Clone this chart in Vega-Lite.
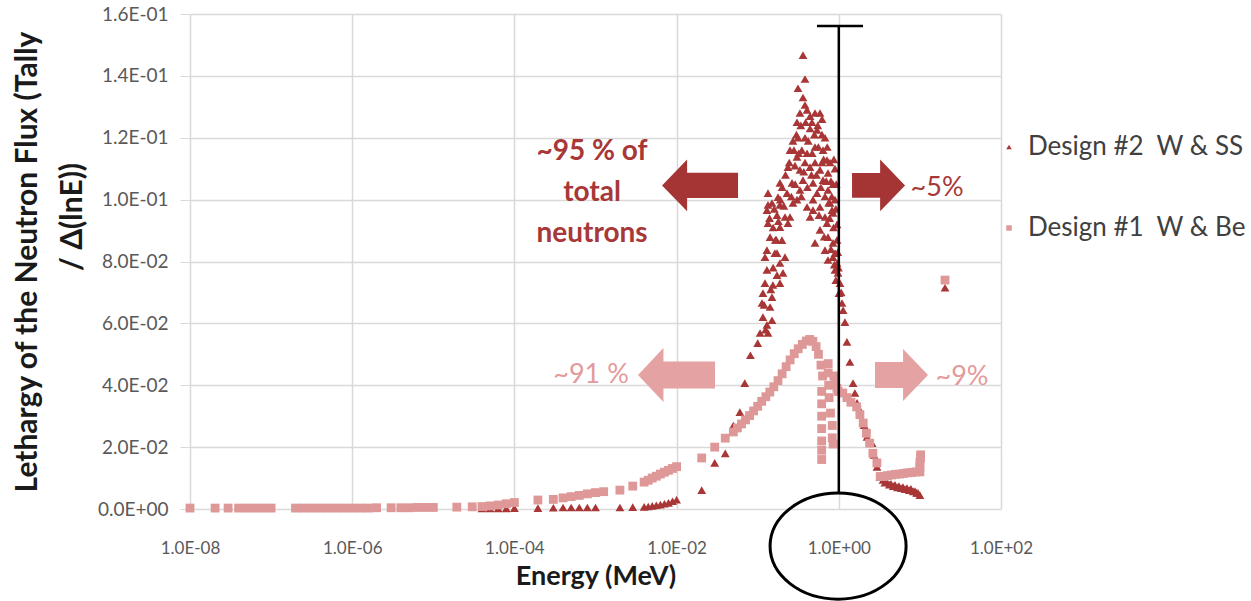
{
  "$schema": "https://vega.github.io/schema/vega-lite/v6.json",
  "width": 811,
  "height": 495,
  "autosize": {"type": "none"},
  "padding": {"left": 190, "top": 14, "right": 250, "bottom": 92},
  "background": "white",
  "config": {
    "view": {"stroke": null},
    "font": "Lato",
    "legend": {"title": null}
  },
  "datasets": {
    "flux": [
      {"series": "Design #2\u00a0 W & SS", "energy": 3.98e-5, "lethargy": 0.0002},
      {"series": "Design #2\u00a0 W & SS", "energy": 5.01e-5, "lethargy": 0.0002},
      {"series": "Design #2\u00a0 W & SS", "energy": 6.31e-5, "lethargy": 0.0002},
      {"series": "Design #2\u00a0 W & SS", "energy": 7.94e-5, "lethargy": 0.0002},
      {"series": "Design #2\u00a0 W & SS", "energy": 1e-4, "lethargy": 0.0003},
      {"series": "Design #2\u00a0 W & SS", "energy": 1.95e-4, "lethargy": 0.0003},
      {"series": "Design #2\u00a0 W & SS", "energy": 3.02e-4, "lethargy": 0.0004},
      {"series": "Design #2\u00a0 W & SS", "energy": 3.98e-4, "lethargy": 0.0005},
      {"series": "Design #2\u00a0 W & SS", "energy": 5.01e-4, "lethargy": 0.0005},
      {"series": "Design #2\u00a0 W & SS", "energy": 6.31e-4, "lethargy": 0.0005},
      {"series": "Design #2\u00a0 W & SS", "energy": 7.94e-4, "lethargy": 0.0005},
      {"series": "Design #2\u00a0 W & SS", "energy": 1e-3, "lethargy": 0.0005},
      {"series": "Design #2\u00a0 W & SS", "energy": 2.0e-3, "lethargy": 0.0005},
      {"series": "Design #2\u00a0 W & SS", "energy": 2.88e-3, "lethargy": 0.0006},
      {"series": "Design #2\u00a0 W & SS", "energy": 3.98e-3, "lethargy": 0.0007},
      {"series": "Design #2\u00a0 W & SS", "energy": 4.47e-3, "lethargy": 0.0008},
      {"series": "Design #2\u00a0 W & SS", "energy": 5.01e-3, "lethargy": 0.0010},
      {"series": "Design #2\u00a0 W & SS", "energy": 5.62e-3, "lethargy": 0.0012},
      {"series": "Design #2\u00a0 W & SS", "energy": 6.31e-3, "lethargy": 0.0014},
      {"series": "Design #2\u00a0 W & SS", "energy": 7.08e-3, "lethargy": 0.0017},
      {"series": "Design #2\u00a0 W & SS", "energy": 7.94e-3, "lethargy": 0.0020},
      {"series": "Design #2\u00a0 W & SS", "energy": 8.91e-3, "lethargy": 0.0025},
      {"series": "Design #2\u00a0 W & SS", "energy": 1e-2, "lethargy": 0.0030},
      {"series": "Design #2\u00a0 W & SS", "energy": 2.04e-2, "lethargy": 0.0061},
      {"series": "Design #2\u00a0 W & SS", "energy": 2.95e-2, "lethargy": 0.0149},
      {"series": "Design #2\u00a0 W & SS", "energy": 3.98e-2, "lethargy": 0.0180},
      {"series": "Design #2\u00a0 W & SS", "energy": 5.01e-2, "lethargy": 0.0270},
      {"series": "Design #2\u00a0 W & SS", "energy": 6.03e-2, "lethargy": 0.0313},
      {"series": "Design #2\u00a0 W & SS", "energy": 6.92e-2, "lethargy": 0.0407},
      {"series": "Design #2\u00a0 W & SS", "energy": 8.13e-2, "lethargy": 0.0497},
      {"series": "Design #2\u00a0 W & SS", "energy": 0.1, "lethargy": 0.0536},
      {"series": "Design #2\u00a0 W & SS", "energy": 0.107, "lethargy": 0.0569},
      {"series": "Design #2\u00a0 W & SS", "energy": 0.362, "lethargy": 0.1467},
      {"series": "Design #2\u00a0 W & SS", "energy": 0.383, "lethargy": 0.139},
      {"series": "Design #2\u00a0 W & SS", "energy": 0.314, "lethargy": 0.136},
      {"series": "Design #2\u00a0 W & SS", "energy": 0.362, "lethargy": 0.133},
      {"series": "Design #2\u00a0 W & SS", "energy": 0.383, "lethargy": 0.1306},
      {"series": "Design #2\u00a0 W & SS", "energy": 0.305, "lethargy": 0.125},
      {"series": "Design #2\u00a0 W & SS", "energy": 0.332, "lethargy": 0.128},
      {"series": "Design #2\u00a0 W & SS", "energy": 0.406, "lethargy": 0.129},
      {"series": "Design #2\u00a0 W & SS", "energy": 0.442, "lethargy": 0.127},
      {"series": "Design #2\u00a0 W & SS", "energy": 0.586, "lethargy": 0.128},
      {"series": "Design #2\u00a0 W & SS", "energy": 0.621, "lethargy": 0.126},
      {"series": "Design #2\u00a0 W & SS", "energy": 0.272, "lethargy": 0.119},
      {"series": "Design #2\u00a0 W & SS", "energy": 0.314, "lethargy": 0.120},
      {"series": "Design #2\u00a0 W & SS", "energy": 0.442, "lethargy": 0.123},
      {"series": "Design #2\u00a0 W & SS", "energy": 0.539, "lethargy": 0.1225},
      {"series": "Design #2\u00a0 W & SS", "energy": 0.676, "lethargy": 0.120},
      {"series": "Design #2\u00a0 W & SS", "energy": 0.250, "lethargy": 0.116},
      {"series": "Design #2\u00a0 W & SS", "energy": 0.305, "lethargy": 0.1138},
      {"series": "Design #2\u00a0 W & SS", "energy": 0.406, "lethargy": 0.115},
      {"series": "Design #2\u00a0 W & SS", "energy": 0.509, "lethargy": 0.117},
      {"series": "Design #2\u00a0 W & SS", "energy": 0.639, "lethargy": 0.116},
      {"series": "Design #2\u00a0 W & SS", "energy": 0.715, "lethargy": 0.1128},
      {"series": "Design #2\u00a0 W & SS", "energy": 0.236, "lethargy": 0.1105},
      {"series": "Design #2\u00a0 W & SS", "energy": 0.332, "lethargy": 0.1096},
      {"series": "Design #2\u00a0 W & SS", "energy": 0.442, "lethargy": 0.1105},
      {"series": "Design #2\u00a0 W & SS", "energy": 0.586, "lethargy": 0.1096},
      {"series": "Design #2\u00a0 W & SS", "energy": 0.736, "lethargy": 0.1086},
      {"series": "Design #2\u00a0 W & SS", "energy": 0.188, "lethargy": 0.1054},
      {"series": "Design #2\u00a0 W & SS", "energy": 0.265, "lethargy": 0.1054},
      {"series": "Design #2\u00a0 W & SS", "energy": 0.362, "lethargy": 0.1063},
      {"series": "Design #2\u00a0 W & SS", "energy": 0.481, "lethargy": 0.1054},
      {"series": "Design #2\u00a0 W & SS", "energy": 0.639, "lethargy": 0.1063},
      {"series": "Design #2\u00a0 W & SS", "energy": 0.134, "lethargy": 0.1021},
      {"series": "Design #2\u00a0 W & SS", "energy": 0.230, "lethargy": 0.1021},
      {"series": "Design #2\u00a0 W & SS", "energy": 0.332, "lethargy": 0.1031},
      {"series": "Design #2\u00a0 W & SS", "energy": 0.539, "lethargy": 0.1021},
      {"series": "Design #2\u00a0 W & SS", "energy": 0.736, "lethargy": 0.1031},
      {"series": "Design #2\u00a0 W & SS", "energy": 0.134, "lethargy": 0.0983},
      {"series": "Design #2\u00a0 W & SS", "energy": 0.188, "lethargy": 0.0983},
      {"series": "Design #2\u00a0 W & SS", "energy": 0.272, "lethargy": 0.0989},
      {"series": "Design #2\u00a0 W & SS", "energy": 0.406, "lethargy": 0.0976},
      {"series": "Design #2\u00a0 W & SS", "energy": 0.586, "lethargy": 0.0976},
      {"series": "Design #2\u00a0 W & SS", "energy": 0.779, "lethargy": 0.0989},
      {"series": "Design #2\u00a0 W & SS", "energy": 0.173, "lethargy": 0.095},
      {"series": "Design #2\u00a0 W & SS", "energy": 0.250, "lethargy": 0.0944},
      {"series": "Design #2\u00a0 W & SS", "energy": 0.442, "lethargy": 0.0944},
      {"series": "Design #2\u00a0 W & SS", "energy": 0.676, "lethargy": 0.0944},
      {"series": "Design #2\u00a0 W & SS", "energy": 0.848, "lethargy": 0.0957},
      {"series": "Design #2\u00a0 W & SS", "energy": 0.150, "lethargy": 0.0989},
      {"series": "Design #2\u00a0 W & SS", "energy": 0.178, "lethargy": 0.1008},
      {"series": "Design #2\u00a0 W & SS", "energy": 0.130, "lethargy": 0.0966},
      {"series": "Design #2\u00a0 W & SS", "energy": 0.217, "lethargy": 0.0944},
      {"series": "Design #2\u00a0 W & SS", "energy": 0.134, "lethargy": 0.0924},
      {"series": "Design #2\u00a0 W & SS", "energy": 0.188, "lethargy": 0.0911},
      {"series": "Design #2\u00a0 W & SS", "energy": 0.236, "lethargy": 0.0924},
      {"series": "Design #2\u00a0 W & SS", "energy": 0.142, "lethargy": 0.0879},
      {"series": "Design #2\u00a0 W & SS", "energy": 0.199, "lethargy": 0.0869},
      {"series": "Design #2\u00a0 W & SS", "energy": 0.130, "lethargy": 0.0837},
      {"series": "Design #2\u00a0 W & SS", "energy": 0.173, "lethargy": 0.0827},
      {"series": "Design #2\u00a0 W & SS", "energy": 0.217, "lethargy": 0.0814},
      {"series": "Design #2\u00a0 W & SS", "energy": 0.481, "lethargy": 0.0966},
      {"series": "Design #2\u00a0 W & SS", "energy": 0.715, "lethargy": 0.0924},
      {"series": "Design #2\u00a0 W & SS", "energy": 0.824, "lethargy": 0.0966},
      {"series": "Design #2\u00a0 W & SS", "energy": 0.586, "lethargy": 0.0902},
      {"series": "Design #2\u00a0 W & SS", "energy": 0.736, "lethargy": 0.0879},
      {"series": "Design #2\u00a0 W & SS", "energy": 0.848, "lethargy": 0.086},
      {"series": "Design #2\u00a0 W & SS", "energy": 0.509, "lethargy": 0.086},
      {"series": "Design #2\u00a0 W & SS", "energy": 0.676, "lethargy": 0.0837},
      {"series": "Design #2\u00a0 W & SS", "energy": 0.848, "lethargy": 0.0814},
      {"series": "Design #2\u00a0 W & SS", "energy": 0.736, "lethargy": 0.0805},
      {"series": "Design #2\u00a0 W & SS", "energy": 0.123, "lethargy": 0.0814},
      {"series": "Design #2\u00a0 W & SS", "energy": 0.163, "lethargy": 0.0827},
      {"series": "Design #2\u00a0 W & SS", "energy": 0.188, "lethargy": 0.0795},
      {"series": "Design #2\u00a0 W & SS", "energy": 0.130, "lethargy": 0.0773},
      {"series": "Design #2\u00a0 W & SS", "energy": 0.173, "lethargy": 0.0756},
      {"series": "Design #2\u00a0 W & SS", "energy": 0.205, "lethargy": 0.0763},
      {"series": "Design #2\u00a0 W & SS", "energy": 0.123, "lethargy": 0.073},
      {"series": "Design #2\u00a0 W & SS", "energy": 0.154, "lethargy": 0.0724},
      {"series": "Design #2\u00a0 W & SS", "energy": 0.116, "lethargy": 0.0698},
      {"series": "Design #2\u00a0 W & SS", "energy": 0.150, "lethargy": 0.0685},
      {"series": "Design #2\u00a0 W & SS", "energy": 0.188, "lethargy": 0.073},
      {"series": "Design #2\u00a0 W & SS", "energy": 0.113, "lethargy": 0.0666},
      {"series": "Design #2\u00a0 W & SS", "energy": 0.142, "lethargy": 0.0653},
      {"series": "Design #2\u00a0 W & SS", "energy": 0.116, "lethargy": 0.062},
      {"series": "Design #2\u00a0 W & SS", "energy": 0.150, "lethargy": 0.061},
      {"series": "Design #2\u00a0 W & SS", "energy": 0.134, "lethargy": 0.0569},
      {"series": "Design #2\u00a0 W & SS", "energy": 0.130, "lethargy": 0.0595},
      {"series": "Design #2\u00a0 W & SS", "energy": 0.898, "lethargy": 0.0827},
      {"series": "Design #2\u00a0 W & SS", "energy": 0.950, "lethargy": 0.0795},
      {"series": "Design #2\u00a0 W & SS", "energy": 0.978, "lethargy": 0.0763},
      {"series": "Design #2\u00a0 W & SS", "energy": 1.035, "lethargy": 0.073},
      {"series": "Design #2\u00a0 W & SS", "energy": 0.898, "lethargy": 0.0773},
      {"series": "Design #2\u00a0 W & SS", "energy": 1.006, "lethargy": 0.0698},
      {"series": "Design #2\u00a0 W & SS", "energy": 1.095, "lethargy": 0.0666},
      {"series": "Design #2\u00a0 W & SS", "energy": 0.898, "lethargy": 0.110},
      {"series": "Design #2\u00a0 W & SS", "energy": 0.898, "lethargy": 0.100},
      {"series": "Design #2\u00a0 W & SS", "energy": 0.950, "lethargy": 0.092},
      {"series": "Design #2\u00a0 W & SS", "energy": 0.848, "lethargy": 0.105},
      {"series": "Design #2\u00a0 W & SS", "energy": 0.779, "lethargy": 0.112},
      {"series": "Design #2\u00a0 W & SS", "energy": 0.950, "lethargy": 0.087},
      {"series": "Design #2\u00a0 W & SS", "energy": 0.467, "lethargy": 0.125},
      {"series": "Design #2\u00a0 W & SS", "energy": 0.509, "lethargy": 0.128},
      {"series": "Design #2\u00a0 W & SS", "energy": 0.55, "lethargy": 0.124},
      {"series": "Design #2\u00a0 W & SS", "energy": 0.383, "lethargy": 0.120},
      {"series": "Design #2\u00a0 W & SS", "energy": 0.35, "lethargy": 0.116},
      {"series": "Design #2\u00a0 W & SS", "energy": 0.288, "lethargy": 0.111},
      {"series": "Design #2\u00a0 W & SS", "energy": 0.383, "lethargy": 0.112},
      {"series": "Design #2\u00a0 W & SS", "energy": 0.509, "lethargy": 0.112},
      {"series": "Design #2\u00a0 W & SS", "energy": 0.621, "lethargy": 0.112},
      {"series": "Design #2\u00a0 W & SS", "energy": 0.305, "lethargy": 0.100},
      {"series": "Design #2\u00a0 W & SS", "energy": 0.481, "lethargy": 0.100},
      {"series": "Design #2\u00a0 W & SS", "energy": 0.676, "lethargy": 0.101},
      {"series": "Design #2\u00a0 W & SS", "energy": 0.14, "lethargy": 0.094},
      {"series": "Design #2\u00a0 W & SS", "energy": 0.155, "lethargy": 0.091},
      {"series": "Design #2\u00a0 W & SS", "energy": 0.16, "lethargy": 0.097},
      {"series": "Design #2\u00a0 W & SS", "energy": 0.165, "lethargy": 0.087},
      {"series": "Design #2\u00a0 W & SS", "energy": 0.2, "lethargy": 0.104},
      {"series": "Design #2\u00a0 W & SS", "energy": 0.21, "lethargy": 0.098},
      {"series": "Design #2\u00a0 W & SS", "energy": 0.22, "lethargy": 0.108},
      {"series": "Design #2\u00a0 W & SS", "energy": 0.245, "lethargy": 0.112},
      {"series": "Design #2\u00a0 W & SS", "energy": 0.26, "lethargy": 0.101},
      {"series": "Design #2\u00a0 W & SS", "energy": 0.28, "lethargy": 0.116},
      {"series": "Design #2\u00a0 W & SS", "energy": 0.29, "lethargy": 0.105},
      {"series": "Design #2\u00a0 W & SS", "energy": 0.3, "lethargy": 0.121},
      {"series": "Design #2\u00a0 W & SS", "energy": 0.32, "lethargy": 0.115},
      {"series": "Design #2\u00a0 W & SS", "energy": 0.34, "lethargy": 0.124},
      {"series": "Design #2\u00a0 W & SS", "energy": 0.345, "lethargy": 0.101},
      {"series": "Design #2\u00a0 W & SS", "energy": 0.37, "lethargy": 0.109},
      {"series": "Design #2\u00a0 W & SS", "energy": 0.39, "lethargy": 0.125},
      {"series": "Design #2\u00a0 W & SS", "energy": 0.41, "lethargy": 0.104},
      {"series": "Design #2\u00a0 W & SS", "energy": 0.42, "lethargy": 0.119},
      {"series": "Design #2\u00a0 W & SS", "energy": 0.46, "lethargy": 0.108},
      {"series": "Design #2\u00a0 W & SS", "energy": 0.47, "lethargy": 0.115},
      {"series": "Design #2\u00a0 W & SS", "energy": 0.5, "lethargy": 0.121},
      {"series": "Design #2\u00a0 W & SS", "energy": 0.53, "lethargy": 0.108},
      {"series": "Design #2\u00a0 W & SS", "energy": 0.56, "lethargy": 0.117},
      {"series": "Design #2\u00a0 W & SS", "energy": 0.57, "lethargy": 0.095},
      {"series": "Design #2\u00a0 W & SS", "energy": 0.6, "lethargy": 0.104},
      {"series": "Design #2\u00a0 W & SS", "energy": 0.62, "lethargy": 0.121},
      {"series": "Design #2\u00a0 W & SS", "energy": 0.65, "lethargy": 0.113},
      {"series": "Design #2\u00a0 W & SS", "energy": 0.66, "lethargy": 0.088},
      {"series": "Design #2\u00a0 W & SS", "energy": 0.7, "lethargy": 0.106},
      {"series": "Design #2\u00a0 W & SS", "energy": 0.72, "lethargy": 0.117},
      {"series": "Design #2\u00a0 W & SS", "energy": 0.75, "lethargy": 0.099},
      {"series": "Design #2\u00a0 W & SS", "energy": 0.77, "lethargy": 0.094},
      {"series": "Design #2\u00a0 W & SS", "energy": 0.8, "lethargy": 0.106},
      {"series": "Design #2\u00a0 W & SS", "energy": 0.82, "lethargy": 0.101},
      {"series": "Design #2\u00a0 W & SS", "energy": 0.86, "lethargy": 0.091},
      {"series": "Design #2\u00a0 W & SS", "energy": 0.87, "lethargy": 0.113},
      {"series": "Design #2\u00a0 W & SS", "energy": 0.92, "lethargy": 0.097},
      {"series": "Design #2\u00a0 W & SS", "energy": 0.93, "lethargy": 0.105},
      {"series": "Design #2\u00a0 W & SS", "energy": 0.97, "lethargy": 0.083},
      {"series": "Design #2\u00a0 W & SS", "energy": 0.99, "lethargy": 0.078},
      {"series": "Design #2\u00a0 W & SS", "energy": 0.155, "lethargy": 0.078},
      {"series": "Design #2\u00a0 W & SS", "energy": 0.12, "lethargy": 0.066},
      {"series": "Design #2\u00a0 W & SS", "energy": 0.125, "lethargy": 0.058},
      {"series": "Design #2\u00a0 W & SS", "energy": 0.145, "lethargy": 0.071},
      {"series": "Design #2\u00a0 W & SS", "energy": 0.17, "lethargy": 0.087},
      {"series": "Design #2\u00a0 W & SS", "energy": 0.18, "lethargy": 0.093},
      {"series": "Design #2\u00a0 W & SS", "energy": 0.19, "lethargy": 0.1},
      {"series": "Design #2\u00a0 W & SS", "energy": 0.8, "lethargy": 0.084},
      {"series": "Design #2\u00a0 W & SS", "energy": 0.88, "lethargy": 0.079},
      {"series": "Design #2\u00a0 W & SS", "energy": 0.92, "lethargy": 0.074},
      {"series": "Design #2\u00a0 W & SS", "energy": 1.07, "lethargy": 0.070},
      {"series": "Design #2\u00a0 W & SS", "energy": 1.13, "lethargy": 0.0643},
      {"series": "Design #2\u00a0 W & SS", "energy": 1.19, "lethargy": 0.0604},
      {"series": "Design #2\u00a0 W & SS", "energy": 1.26, "lethargy": 0.054},
      {"series": "Design #2\u00a0 W & SS", "energy": 1.37, "lethargy": 0.0475},
      {"series": "Design #2\u00a0 W & SS", "energy": 1.50, "lethargy": 0.0407},
      {"series": "Design #2\u00a0 W & SS", "energy": 1.58, "lethargy": 0.0375},
      {"series": "Design #2\u00a0 W & SS", "energy": 1.68, "lethargy": 0.0343},
      {"series": "Design #2\u00a0 W & SS", "energy": 1.82, "lethargy": 0.032},
      {"series": "Design #2\u00a0 W & SS", "energy": 2.05, "lethargy": 0.0271},
      {"series": "Design #2\u00a0 W & SS", "energy": 2.23, "lethargy": 0.0233},
      {"series": "Design #2\u00a0 W & SS", "energy": 2.57, "lethargy": 0.0213},
      {"series": "Design #2\u00a0 W & SS", "energy": 2.72, "lethargy": 0.0175},
      {"series": "Design #2\u00a0 W & SS", "energy": 2.96, "lethargy": 0.0136},
      {"series": "Design #2\u00a0 W & SS", "energy": 3.22, "lethargy": 0.0103},
      {"series": "Design #2\u00a0 W & SS", "energy": 3.51, "lethargy": 0.0094},
      {"series": "Design #2\u00a0 W & SS", "energy": 3.93, "lethargy": 0.0087},
      {"series": "Design #2\u00a0 W & SS", "energy": 4.40, "lethargy": 0.0081},
      {"series": "Design #2\u00a0 W & SS", "energy": 4.93, "lethargy": 0.0078},
      {"series": "Design #2\u00a0 W & SS", "energy": 5.52, "lethargy": 0.0074},
      {"series": "Design #2\u00a0 W & SS", "energy": 6.19, "lethargy": 0.0071},
      {"series": "Design #2\u00a0 W & SS", "energy": 6.93, "lethargy": 0.0068},
      {"series": "Design #2\u00a0 W & SS", "energy": 7.77, "lethargy": 0.0065},
      {"series": "Design #2\u00a0 W & SS", "energy": 8.71, "lethargy": 0.0058},
      {"series": "Design #2\u00a0 W & SS", "energy": 9.48, "lethargy": 0.0052},
      {"series": "Design #2\u00a0 W & SS", "energy": 10.0, "lethargy": 0.0045},
      {"series": "Design #2\u00a0 W & SS", "energy": 3.7, "lethargy": 0.0085},
      {"series": "Design #2\u00a0 W & SS", "energy": 4.2, "lethargy": 0.0079},
      {"series": "Design #2\u00a0 W & SS", "energy": 4.7, "lethargy": 0.0074},
      {"series": "Design #2\u00a0 W & SS", "energy": 5.3, "lethargy": 0.0070},
      {"series": "Design #2\u00a0 W & SS", "energy": 5.9, "lethargy": 0.0067},
      {"series": "Design #2\u00a0 W & SS", "energy": 6.6, "lethargy": 0.0064},
      {"series": "Design #2\u00a0 W & SS", "energy": 7.4, "lethargy": 0.0061},
      {"series": "Design #2\u00a0 W & SS", "energy": 8.3, "lethargy": 0.0057},
      {"series": "Design #2\u00a0 W & SS", "energy": 9.1, "lethargy": 0.0052},
      {"series": "Design #2\u00a0 W & SS", "energy": 20.4, "lethargy": 0.0715},

      {"series": "Design #1\u00a0 W & Be", "energy": 1e-8, "lethargy": 0.0003},
      {"series": "Design #1\u00a0 W & Be", "energy": 2.04e-8, "lethargy": 0.0003},
      {"series": "Design #1\u00a0 W & Be", "energy": 2.95e-8, "lethargy": 0.0003},
      {"series": "Design #1\u00a0 W & Be", "energy": 3.98e-8, "lethargy": 0.0003},
      {"series": "Design #1\u00a0 W & Be", "energy": 5.01e-8, "lethargy": 0.0003},
      {"series": "Design #1\u00a0 W & Be", "energy": 6.31e-8, "lethargy": 0.0003},
      {"series": "Design #1\u00a0 W & Be", "energy": 7.94e-8, "lethargy": 0.0003},
      {"series": "Design #1\u00a0 W & Be", "energy": 1e-7, "lethargy": 0.0003},
      {"series": "Design #1\u00a0 W & Be", "energy": 2.0e-7, "lethargy": 0.0003},
      {"series": "Design #1\u00a0 W & Be", "energy": 2.51e-7, "lethargy": 0.0003},
      {"series": "Design #1\u00a0 W & Be", "energy": 3.16e-7, "lethargy": 0.0003},
      {"series": "Design #1\u00a0 W & Be", "energy": 3.98e-7, "lethargy": 0.0003},
      {"series": "Design #1\u00a0 W & Be", "energy": 5.01e-7, "lethargy": 0.0003},
      {"series": "Design #1\u00a0 W & Be", "energy": 6.31e-7, "lethargy": 0.0003},
      {"series": "Design #1\u00a0 W & Be", "energy": 7.94e-7, "lethargy": 0.0003},
      {"series": "Design #1\u00a0 W & Be", "energy": 1e-6, "lethargy": 0.0003},
      {"series": "Design #1\u00a0 W & Be", "energy": 1.26e-6, "lethargy": 0.0003},
      {"series": "Design #1\u00a0 W & Be", "energy": 1.58e-6, "lethargy": 0.0003},
      {"series": "Design #1\u00a0 W & Be", "energy": 2.0e-6, "lethargy": 0.0004},
      {"series": "Design #1\u00a0 W & Be", "energy": 3.02e-6, "lethargy": 0.0004},
      {"series": "Design #1\u00a0 W & Be", "energy": 3.98e-6, "lethargy": 0.0004},
      {"series": "Design #1\u00a0 W & Be", "energy": 5.01e-6, "lethargy": 0.0004},
      {"series": "Design #1\u00a0 W & Be", "energy": 6.31e-6, "lethargy": 0.0005},
      {"series": "Design #1\u00a0 W & Be", "energy": 7.94e-6, "lethargy": 0.0005},
      {"series": "Design #1\u00a0 W & Be", "energy": 1e-5, "lethargy": 0.0005},
      {"series": "Design #1\u00a0 W & Be", "energy": 1.95e-5, "lethargy": 0.0006},
      {"series": "Design #1\u00a0 W & Be", "energy": 3.02e-5, "lethargy": 0.0007},
      {"series": "Design #1\u00a0 W & Be", "energy": 3.98e-5, "lethargy": 0.0008},
      {"series": "Design #1\u00a0 W & Be", "energy": 5.01e-5, "lethargy": 0.0010},
      {"series": "Design #1\u00a0 W & Be", "energy": 6.31e-5, "lethargy": 0.0013},
      {"series": "Design #1\u00a0 W & Be", "energy": 7.94e-5, "lethargy": 0.0017},
      {"series": "Design #1\u00a0 W & Be", "energy": 1e-4, "lethargy": 0.0021},
      {"series": "Design #1\u00a0 W & Be", "energy": 1.95e-4, "lethargy": 0.0029},
      {"series": "Design #1\u00a0 W & Be", "energy": 3.02e-4, "lethargy": 0.0031},
      {"series": "Design #1\u00a0 W & Be", "energy": 3.98e-4, "lethargy": 0.0036},
      {"series": "Design #1\u00a0 W & Be", "energy": 5.01e-4, "lethargy": 0.0040},
      {"series": "Design #1\u00a0 W & Be", "energy": 6.31e-4, "lethargy": 0.0044},
      {"series": "Design #1\u00a0 W & Be", "energy": 7.94e-4, "lethargy": 0.0049},
      {"series": "Design #1\u00a0 W & Be", "energy": 1e-3, "lethargy": 0.0053},
      {"series": "Design #1\u00a0 W & Be", "energy": 1.26e-3, "lethargy": 0.0056},
      {"series": "Design #1\u00a0 W & Be", "energy": 2.0e-3, "lethargy": 0.0061},
      {"series": "Design #1\u00a0 W & Be", "energy": 2.88e-3, "lethargy": 0.0074},
      {"series": "Design #1\u00a0 W & Be", "energy": 3.98e-3, "lethargy": 0.0087},
      {"series": "Design #1\u00a0 W & Be", "energy": 4.47e-3, "lethargy": 0.0093},
      {"series": "Design #1\u00a0 W & Be", "energy": 5.01e-3, "lethargy": 0.0100},
      {"series": "Design #1\u00a0 W & Be", "energy": 5.62e-3, "lethargy": 0.0106},
      {"series": "Design #1\u00a0 W & Be", "energy": 6.31e-3, "lethargy": 0.0113},
      {"series": "Design #1\u00a0 W & Be", "energy": 7.08e-3, "lethargy": 0.0119},
      {"series": "Design #1\u00a0 W & Be", "energy": 7.94e-3, "lethargy": 0.0125},
      {"series": "Design #1\u00a0 W & Be", "energy": 8.91e-3, "lethargy": 0.0131},
      {"series": "Design #1\u00a0 W & Be", "energy": 1e-2, "lethargy": 0.0137},
      {"series": "Design #1\u00a0 W & Be", "energy": 2.04e-2, "lethargy": 0.0165},
      {"series": "Design #1\u00a0 W & Be", "energy": 2.95e-2, "lethargy": 0.0200},
      {"series": "Design #1\u00a0 W & Be", "energy": 3.98e-2, "lethargy": 0.0229},
      {"series": "Design #1\u00a0 W & Be", "energy": 5.01e-2, "lethargy": 0.0249},
      {"series": "Design #1\u00a0 W & Be", "energy": 5.62e-2, "lethargy": 0.0262},
      {"series": "Design #1\u00a0 W & Be", "energy": 6.31e-2, "lethargy": 0.0275},
      {"series": "Design #1\u00a0 W & Be", "energy": 7.08e-2, "lethargy": 0.0288},
      {"series": "Design #1\u00a0 W & Be", "energy": 7.94e-2, "lethargy": 0.0302},
      {"series": "Design #1\u00a0 W & Be", "energy": 8.91e-2, "lethargy": 0.0317},
      {"series": "Design #1\u00a0 W & Be", "energy": 0.1, "lethargy": 0.0332},
      {"series": "Design #1\u00a0 W & Be", "energy": 0.112, "lethargy": 0.0348},
      {"series": "Design #1\u00a0 W & Be", "energy": 0.126, "lethargy": 0.0363},
      {"series": "Design #1\u00a0 W & Be", "energy": 0.141, "lethargy": 0.0378},
      {"series": "Design #1\u00a0 W & Be", "energy": 0.158, "lethargy": 0.0395},
      {"series": "Design #1\u00a0 W & Be", "energy": 0.178, "lethargy": 0.0415},
      {"series": "Design #1\u00a0 W & Be", "energy": 0.2, "lethargy": 0.0437},
      {"series": "Design #1\u00a0 W & Be", "energy": 0.224, "lethargy": 0.0460},
      {"series": "Design #1\u00a0 W & Be", "energy": 0.251, "lethargy": 0.0482},
      {"series": "Design #1\u00a0 W & Be", "energy": 0.282, "lethargy": 0.0502},
      {"series": "Design #1\u00a0 W & Be", "energy": 0.316, "lethargy": 0.0518},
      {"series": "Design #1\u00a0 W & Be", "energy": 0.355, "lethargy": 0.0532},
      {"series": "Design #1\u00a0 W & Be", "energy": 0.398, "lethargy": 0.0543},
      {"series": "Design #1\u00a0 W & Be", "energy": 0.437, "lethargy": 0.0548},
      {"series": "Design #1\u00a0 W & Be", "energy": 0.479, "lethargy": 0.0542},
      {"series": "Design #1\u00a0 W & Be", "energy": 0.525, "lethargy": 0.0525},
      {"series": "Design #1\u00a0 W & Be", "energy": 0.562, "lethargy": 0.0500},
      {"series": "Design #1\u00a0 W & Be", "energy": 0.603, "lethargy": 0.0465},
      {"series": "Design #1\u00a0 W & Be", "energy": 0.631, "lethargy": 0.0430},
      {"series": "Design #1\u00a0 W & Be", "energy": 0.615, "lethargy": 0.038},
      {"series": "Design #1\u00a0 W & Be", "energy": 0.615, "lethargy": 0.034},
      {"series": "Design #1\u00a0 W & Be", "energy": 0.615, "lethargy": 0.030},
      {"series": "Design #1\u00a0 W & Be", "energy": 0.615, "lethargy": 0.026},
      {"series": "Design #1\u00a0 W & Be", "energy": 0.615, "lethargy": 0.022},
      {"series": "Design #1\u00a0 W & Be", "energy": 0.615, "lethargy": 0.019},
      {"series": "Design #1\u00a0 W & Be", "energy": 0.615, "lethargy": 0.016},
      {"series": "Design #1\u00a0 W & Be", "energy": 0.74, "lethargy": 0.047},
      {"series": "Design #1\u00a0 W & Be", "energy": 0.74, "lethargy": 0.044},
      {"series": "Design #1\u00a0 W & Be", "energy": 0.75, "lethargy": 0.040},
      {"series": "Design #1\u00a0 W & Be", "energy": 0.76, "lethargy": 0.036},
      {"series": "Design #1\u00a0 W & Be", "energy": 0.79, "lethargy": 0.031},
      {"series": "Design #1\u00a0 W & Be", "energy": 0.83, "lethargy": 0.027},
      {"series": "Design #1\u00a0 W & Be", "energy": 0.83, "lethargy": 0.023},
      {"series": "Design #1\u00a0 W & Be", "energy": 0.85, "lethargy": 0.021},
      {"series": "Design #1\u00a0 W & Be", "energy": 0.87, "lethargy": 0.043},
      {"series": "Design #1\u00a0 W & Be", "energy": 0.91, "lethargy": 0.041},
      {"series": "Design #1\u00a0 W & Be", "energy": 0.95, "lethargy": 0.039},
      {"series": "Design #1\u00a0 W & Be", "energy": 0.98, "lethargy": 0.038},
      {"series": "Design #1\u00a0 W & Be", "energy": 1.12, "lethargy": 0.0375},
      {"series": "Design #1\u00a0 W & Be", "energy": 1.26, "lethargy": 0.0360},
      {"series": "Design #1\u00a0 W & Be", "energy": 1.41, "lethargy": 0.0345},
      {"series": "Design #1\u00a0 W & Be", "energy": 1.66, "lethargy": 0.0330},
      {"series": "Design #1\u00a0 W & Be", "energy": 1.82, "lethargy": 0.0305},
      {"series": "Design #1\u00a0 W & Be", "energy": 2.0, "lethargy": 0.0278},
      {"series": "Design #1\u00a0 W & Be", "energy": 2.19, "lethargy": 0.0245},
      {"series": "Design #1\u00a0 W & Be", "energy": 2.40, "lethargy": 0.0213},
      {"series": "Design #1\u00a0 W & Be", "energy": 2.63, "lethargy": 0.0180},
      {"series": "Design #1\u00a0 W & Be", "energy": 2.95, "lethargy": 0.0149},
      {"series": "Design #1\u00a0 W & Be", "energy": 3.24, "lethargy": 0.0105},
      {"series": "Design #1\u00a0 W & Be", "energy": 3.55, "lethargy": 0.0105},
      {"series": "Design #1\u00a0 W & Be", "energy": 3.98, "lethargy": 0.0108},
      {"series": "Design #1\u00a0 W & Be", "energy": 4.47, "lethargy": 0.0110},
      {"series": "Design #1\u00a0 W & Be", "energy": 5.01, "lethargy": 0.0112},
      {"series": "Design #1\u00a0 W & Be", "energy": 5.62, "lethargy": 0.0113},
      {"series": "Design #1\u00a0 W & Be", "energy": 6.31, "lethargy": 0.0115},
      {"series": "Design #1\u00a0 W & Be", "energy": 7.08, "lethargy": 0.0117},
      {"series": "Design #1\u00a0 W & Be", "energy": 7.94, "lethargy": 0.0118},
      {"series": "Design #1\u00a0 W & Be", "energy": 8.91, "lethargy": 0.0120},
      {"series": "Design #1\u00a0 W & Be", "energy": 10.0, "lethargy": 0.0120},
      {"series": "Design #1\u00a0 W & Be", "energy": 10.0, "lethargy": 0.0135},
      {"series": "Design #1\u00a0 W & Be", "energy": 10.0, "lethargy": 0.0150},
      {"series": "Design #1\u00a0 W & Be", "energy": 10.2, "lethargy": 0.0165},
      {"series": "Design #1\u00a0 W & Be", "energy": 10.2, "lethargy": 0.0175},
      {"series": "Design #1\u00a0 W & Be", "energy": 20.4, "lethargy": 0.0740}
    ]
  },
  "encoding": {
    "x": {
      "field": "energy",
      "type": "quantitative",
      "scale": {"type": "log", "domain": [1e-8, 100], "nice": false},
      "axis": {
        "title": "Energy (MeV)",
        "values": [1e-8, 1e-6, 1e-4, 1e-2, 1, 100],
        "labelExpr": "'1.0E' + (datum.value < 1 ? '-' : '+') + (abs(round(log(datum.value)/LN10)) < 10 ? '0' : '') + abs(round(log(datum.value)/LN10))",
        "grid": true,
        "gridColor": "#d9d9d9",
        "gridWidth": 1.5,
        "ticks": false,
        "domain": false,
        "labelPadding": 31,
        "labelFontSize": 17,
        "labelColor": "#595959",
        "labelFlush": false,
        "titleFontSize": 27,
        "titleFontWeight": "bold",
        "titleColor": "#1a1a1a",
        "titlePadding": 7
      }
    },
    "y": {
      "field": "lethargy",
      "type": "quantitative",
      "scale": {"domain": [0, 0.16], "nice": false, "zero": false},
      "axis": {
        "title": ["Lethargy of the Neutron Flux (Tally", "\u200b\u2003\u2003\u2003\u2003/ \u0394(lnE))"],
        "values": [0, 0.02, 0.04, 0.06, 0.08, 0.1, 0.12, 0.14, 0.16],
        "labelExpr": "datum.value == 0 ? '0.0E+00' : (datum.value >= 0.1 ? format(datum.value*10, '.1f') + 'E-01' : format(datum.value*100, '.1f') + 'E-02')",
        "grid": true,
        "gridColor": "#d9d9d9",
        "gridWidth": 1.5,
        "tickSize": 10,
        "tickColor": "#d9d9d9",
        "domain": false,
        "labelPadding": 12,
        "labelFontSize": 19,
        "labelColor": "#595959",
        "labelFlush": false,
        "titleFontSize": 30,
        "titleFontWeight": "bold",
        "titleColor": "#1a1a1a",
        "titleLineHeight": 45,
        "titlePadding": 10
      }
    }
  },
  "layer": [
    {
      "data": {"name": "flux"},
      "mark": {"type": "point", "filled": true, "opacity": 1, "size": 78},
      "encoding": {
        "color": {
          "field": "series",
          "type": "nominal",
          "scale": {"domain": ["Design #2\u00a0 W & SS", "Design #1\u00a0 W & Be"], "range": ["#a93636", "#de9898"]},
          "legend": {"orient": "none", "legendX": 806, "legendY": 120, "labelFontSize": 26, "labelLimit": 500, "labelColor": "#404040", "labelFont": "Lato", "symbolSize": 30, "rowPadding": 55, "labelOffset": 6}
        },
        "shape": {
          "field": "series",
          "type": "nominal",
          "scale": {"domain": ["Design #2\u00a0 W & SS", "Design #1\u00a0 W & Be"], "range": ["triangle-up", "square"]},
          "legend": {"orient": "none", "legendX": 806, "legendY": 120, "labelFontSize": 26, "labelLimit": 500, "labelColor": "#404040", "labelFont": "Lato", "symbolSize": 30, "rowPadding": 55, "labelOffset": 6}
        }
      }
    },
    {
      "data": {"values": [{"energy": 1, "lethargy": 0.0052, "top": 0.1561}]},
      "mark": {"type": "rule", "color": "black", "strokeWidth": 2.5},
      "encoding": {"y2": {"field": "top"}}
    },
    {
      "data": {"values": [{"energy": 0.538, "energy2": 1.99, "lethargy": 0.1561}]},
      "mark": {"type": "rule", "color": "black", "strokeWidth": 2.5},
      "encoding": {"x2": {"field": "energy2"}}
    },
    {
      "data": {"values": [{"energy": 0.98, "lethargy": -0.0120}]},
      "mark": {"type": "point", "filled": false, "color": "black", "strokeWidth": 3, "opacity": 1, "size": 18500,
        "shape": "M-1,0C-1,-0.431,-0.552,-0.78,0,-0.78C0.552,-0.78,1,-0.431,1,0C1,0.431,0.552,0.78,0,0.78C-0.552,0.78,-1,0.431,-1,0Z"}
    },
    {
      "data": {"values": [{"energy": 0.01945, "lethargy": 0.1046}]},
      "mark": {"type": "point", "filled": true, "color": "#a53535", "opacity": 1, "size": 5776,
        "shape": "M-1,0L-0.34,-0.68L-0.34,-0.33L1,-0.33L1,0.33L-0.34,0.33L-0.34,0.68Z"}
    },
    {
      "data": {"values": [{"energy": 0.00998, "lethargy": 0.0433}]},
      "mark": {"type": "point", "filled": true, "color": "#e5a2a2", "opacity": 1, "size": 5929,
        "shape": "M-1,0L-0.34,-0.7L-0.34,-0.35L1,-0.35L1,0.35L-0.34,0.35L-0.34,0.7Z"}
    },
    {
      "data": {"values": [{"energy": 3.09, "lethargy": 0.1046}]},
      "mark": {"type": "point", "filled": true, "color": "#a53535", "opacity": 1, "size": 2809,
        "shape": "M1,0L0.06,-0.98L0.06,-0.47L-1,-0.47L-1,0.47L0.06,0.47L0.06,0.98Z"}
    },
    {
      "data": {"values": [{"energy": 5.93, "lethargy": 0.0433}]},
      "mark": {"type": "point", "filled": true, "color": "#e5a2a2", "opacity": 1, "size": 2809,
        "shape": "M1,0L0.06,-0.98L0.06,-0.49L-1,-0.49L-1,0.49L0.06,0.49L0.06,0.98Z"}
    },
    {
      "data": {"values": [{"energy": 9.06e-4, "lethargy": 0.1154, "label": "~95 % of\ntotal\nneutrons"}]},
      "mark": {"type": "text", "lineBreak": "\n", "lineHeight": 41, "fontSize": 28, "fontWeight": "bold", "font": "Lato", "color": "#a83838", "align": "center", "baseline": "middle"},
      "encoding": {"text": {"field": "label"}}
    },
    {
      "data": {"values": [{"energy": 16.3, "lethargy": 0.1037, "label": "~5%"}]},
      "mark": {"type": "text", "fontSize": 27, "font": "Lato", "color": "#a83838", "align": "center", "baseline": "middle"},
      "encoding": {"text": {"field": "label"}}
    },
    {
      "data": {"values": [{"energy": 8.81e-4, "lethargy": 0.0433, "label": "~91 %"}]},
      "mark": {"type": "text", "fontSize": 27, "font": "Lato", "color": "#e39a9a", "align": "center", "baseline": "middle"},
      "encoding": {"text": {"field": "label"}}
    },
    {
      "data": {"values": [{"energy": 33.0, "lethargy": 0.0427, "label": "~9%"}]},
      "mark": {"type": "text", "fontSize": 27, "font": "Lato", "color": "#e39a9a", "align": "center", "baseline": "middle"},
      "encoding": {"text": {"field": "label"}}
    }
  ]
}
